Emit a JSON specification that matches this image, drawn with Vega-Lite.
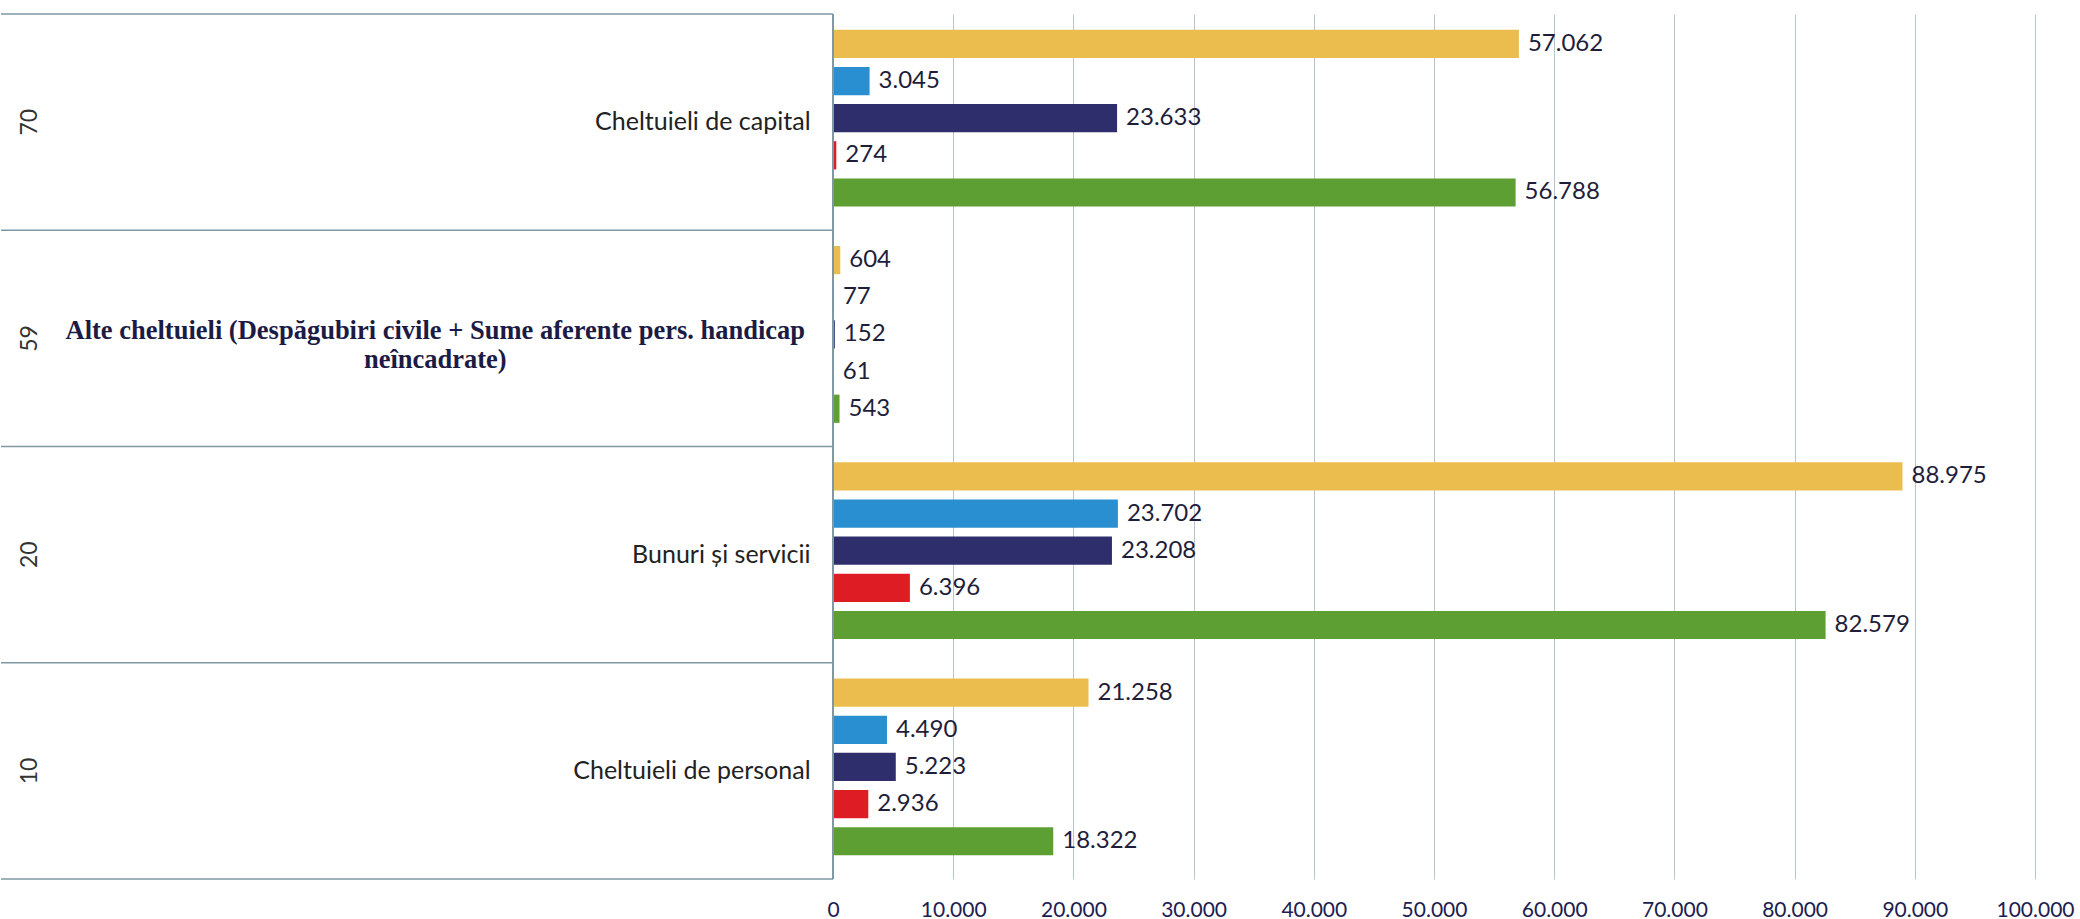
{
  "$schema": "https://vega.github.io/schema/vega-lite/v6.json",
  "background": "white",
  "padding": {"left": 0, "top": 13, "right": 2, "bottom": 0},
  "spacing": 0,
  "bounds": "flush",
  "config": {
    "view": {"stroke": null},
    "font": "Lato",
    "locale": {"number": {"decimal": ",", "thousands": ".", "grouping": [3], "currency": ["", ""]}}
  },
  "datasets": {
    "cats": [
      {"code": "70", "name": "Cheltuieli de capital"},
      {"code": "59", "name": "Alte cheltuieli (Despăgubiri civile + Sume aferente pers. handicap\nneîncadrate)"},
      {"code": "20", "name": "Bunuri și servicii"},
      {"code": "10", "name": "Cheltuieli de personal"}
    ],
    "bars": [
      {"code": "70", "series": "S1", "value": 57062},
      {"code": "70", "series": "S2", "value": 3045},
      {"code": "70", "series": "S3", "value": 23633},
      {"code": "70", "series": "S4", "value": 274},
      {"code": "70", "series": "S5", "value": 56788},
      {"code": "59", "series": "S1", "value": 604},
      {"code": "59", "series": "S2", "value": 77},
      {"code": "59", "series": "S3", "value": 152},
      {"code": "59", "series": "S4", "value": 61},
      {"code": "59", "series": "S5", "value": 543},
      {"code": "20", "series": "S1", "value": 88975},
      {"code": "20", "series": "S2", "value": 23702},
      {"code": "20", "series": "S3", "value": 23208},
      {"code": "20", "series": "S4", "value": 6396},
      {"code": "20", "series": "S5", "value": 82579},
      {"code": "10", "series": "S1", "value": 21258},
      {"code": "10", "series": "S2", "value": 4490},
      {"code": "10", "series": "S3", "value": 5223},
      {"code": "10", "series": "S4", "value": 2936},
      {"code": "10", "series": "S5", "value": 18322}
    ]
  },
  "hconcat": [
    {
      "width": 832,
      "height": 865,
      "data": {"name": "cats"},
      "layer": [
        {
          "mark": {"type": "rule", "color": "#7f98a3", "strokeWidth": 1.5},
          "encoding": {
            "y": {"field": "code", "type": "nominal", "bandPosition": 0,
                  "scale": {"domain": ["70", "59", "20", "10"], "paddingInner": 0, "paddingOuter": 0}, "axis": null}
          }
        },
        {
          "transform": [{"filter": "datum.code === '10'"}],
          "mark": {"type": "rule", "color": "#7f98a3", "strokeWidth": 1.5},
          "encoding": {
            "y": {"field": "code", "type": "nominal", "bandPosition": 1, "axis": null}
          }
        },
        {
          "mark": {"type": "text", "angle": 270, "fontSize": 23, "color": "#333333", "baseline": "middle"},
          "encoding": {
            "y": {"field": "code", "type": "nominal", "axis": null},
            "x": {"datum": 3.5, "type": "quantitative", "scale": {"domain": [0, 100]}, "axis": null},
            "text": {"field": "code"}
          }
        },
        {
          "transform": [{"filter": "datum.code !== '59'"}],
          "mark": {"type": "text", "align": "right", "baseline": "middle", "fontSize": 25, "color": "#222222"},
          "encoding": {
            "y": {"field": "code", "type": "nominal", "axis": null},
            "x": {"datum": 97.3, "type": "quantitative"},
            "text": {"field": "name"}
          }
        },
        {
          "transform": [{"filter": "datum.code === '59'"}],
          "mark": {"type": "text", "align": "center", "baseline": "middle", "font": "Liberation Serif", "fontWeight": "bold", "fontSize": 26.5, "lineBreak": "\n", "lineHeight": 29, "color": "#1b1b45", "dy": -7},
          "encoding": {
            "y": {"field": "code", "type": "nominal", "axis": null},
            "x": {"datum": 52.2, "type": "quantitative"},
            "text": {"field": "name"}
          }
        }
      ]
    },
    {
      "width": 1202,
      "height": 865,
      "data": {"name": "bars"},
      "layer": [
        {
          "mark": {"type": "bar", "opacity": 1},
          "encoding": {
            "y": {"field": "code", "type": "nominal",
                  "scale": {"domain": ["70", "59", "20", "10"], "paddingInner": 0, "paddingOuter": 0}, "axis": null},
            "yOffset": {"field": "series", "type": "nominal",
                        "scale": {"domain": ["S1", "S2", "S3", "S4", "S5"], "paddingInner": 0.24, "paddingOuter": 0.53, "align": 0.4}},
            "x": {"field": "value", "type": "quantitative",
                  "scale": {"domain": [0, 100000], "nice": false, "zero": true},
                  "axis": {
                    "values": [0, 10000, 20000, 30000, 40000, 50000, 60000, 70000, 80000, 90000, 100000],
                    "labelExpr": "format(datum.value, ',')",
                    "domain": false, "ticks": false,
                    "grid": true, "gridColor": "#b7c4cb", "gridWidth": 1,
                    "labelFontSize": 21, "labelColor": "#1c2050", "labelPadding": 20,
                    "labelFlush": false, "title": null
                  }},
            "color": {"field": "series", "type": "nominal", "legend": null,
                      "scale": {"domain": ["S1", "S2", "S3", "S4", "S5"],
                                "range": ["#ebbd4e", "#2a8fd0", "#2f2e6c", "#de1c24", "#5e9f33"]}}
          }
        },
        {
          "mark": {"type": "text", "align": "left", "baseline": "middle", "dx": 9, "fontSize": 24, "color": "#1e1e3a"},
          "encoding": {
            "y": {"field": "code", "type": "nominal", "axis": null},
            "yOffset": {"field": "series", "type": "nominal"},
            "x": {"field": "value", "type": "quantitative"},
            "text": {"field": "value", "type": "quantitative", "format": ","}
          }
        },
        {
          "mark": {"type": "rule", "color": "#7f98a3", "strokeWidth": 1.5},
          "encoding": {"x": {"datum": 0, "type": "quantitative"}}
        }
      ]
    }
  ]
}
